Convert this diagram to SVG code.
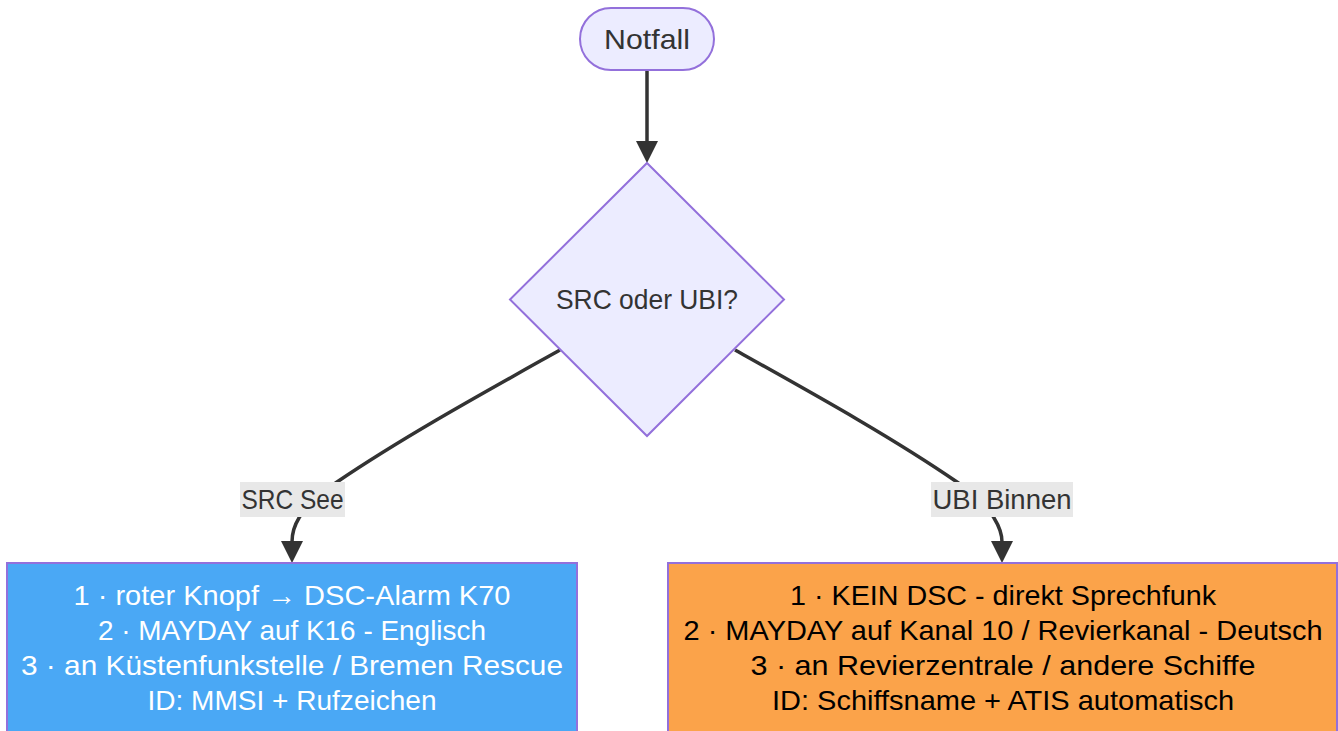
<svg xmlns="http://www.w3.org/2000/svg" width="1338" height="731" viewBox="0 0 1338 731">
<defs>
<style>
text{font-family:"Liberation Sans",Arial,sans-serif;font-size:28px;text-anchor:middle}
.dark{fill:#333333}
.node{stroke:#9370DB;stroke-width:2}
.edge{fill:none;stroke:#333333;stroke-width:3.5}
.lbl{fill:#e8e8e8}
</style>
<marker id="arr" markerUnits="userSpaceOnUse" markerWidth="24" markerHeight="24" refX="1" refY="11" orient="auto">
<path d="M0,0 L22,11 L0,22 z" fill="#333333"/>
</marker>
</defs>
<rect width="1338" height="731" fill="#ffffff"/>
<g id="connectors">
<path class="edge" d="M647,71 L647,142" marker-end="url(#arr)"/>
<path class="edge" d="M560,350 C485,392 405,436 337,482 C316,497 303,510 299,518 C294,526 292,533 292,542" marker-end="url(#arr)"/>
<path class="edge" d="M735,350 C810,392 890,436 957,482 C976,495 989,508 994,518 C999,526 1002,533 1002,542" marker-end="url(#arr)"/>
<g id="label-src">
<rect class="lbl" x="240" y="482" width="105" height="35"/>
<text class="dark" x="292.5" y="509" textLength="102" lengthAdjust="spacingAndGlyphs">SRC See</text>
</g>
<g id="label-ubi">
<rect class="lbl" x="931" y="482" width="142" height="35"/>
<text class="dark" x="1002" y="509" textLength="139" lengthAdjust="spacingAndGlyphs">UBI Binnen</text>
</g>
</g>
<g id="notfall">
<rect class="node" x="580" y="8" width="134" height="62" rx="31" ry="31" fill="#ECECFF"/>
<text class="dark" x="647" y="49" textLength="86" lengthAdjust="spacingAndGlyphs">Notfall</text>
</g>
<g id="decision">
<polygon class="node" points="647,163 784,299.5 647,436 510,299.5" fill="#ECECFF"/>
<text class="dark" x="647" y="309" textLength="182" lengthAdjust="spacingAndGlyphs">SRC oder UBI?</text>
</g>
<g id="src">
<rect class="node" x="7" y="563" width="570" height="180" fill="#4AA8F5" stroke="#B08FE6"/>
<text fill="#ffffff" x="292" y="605" textLength="437" lengthAdjust="spacingAndGlyphs">1 · roter Knopf → DSC-Alarm K70</text>
<text fill="#ffffff" x="292" y="640" textLength="388" lengthAdjust="spacingAndGlyphs">2 · MAYDAY auf K16 - Englisch</text>
<text fill="#ffffff" x="292" y="675" textLength="542" lengthAdjust="spacingAndGlyphs">3 · an Küstenfunkstelle / Bremen Rescue</text>
<text fill="#ffffff" x="292" y="710" textLength="289" lengthAdjust="spacingAndGlyphs">ID: MMSI + Rufzeichen</text>
</g>
<g id="ubi">
<rect class="node" x="668" y="563" width="669" height="180" fill="#FBA34A" stroke="#B08FE6"/>
<text fill="#000000" x="1003" y="605" textLength="426" lengthAdjust="spacingAndGlyphs">1 · KEIN DSC - direkt Sprechfunk</text>
<text fill="#000000" x="1003" y="640" textLength="639" lengthAdjust="spacingAndGlyphs">2 · MAYDAY auf Kanal 10 / Revierkanal - Deutsch</text>
<text fill="#000000" x="1003" y="675" textLength="505" lengthAdjust="spacingAndGlyphs">3 · an Revierzentrale / andere Schiffe</text>
<text fill="#000000" x="1003" y="710" textLength="462" lengthAdjust="spacingAndGlyphs">ID: Schiffsname + ATIS automatisch</text>
</g>
</svg>
